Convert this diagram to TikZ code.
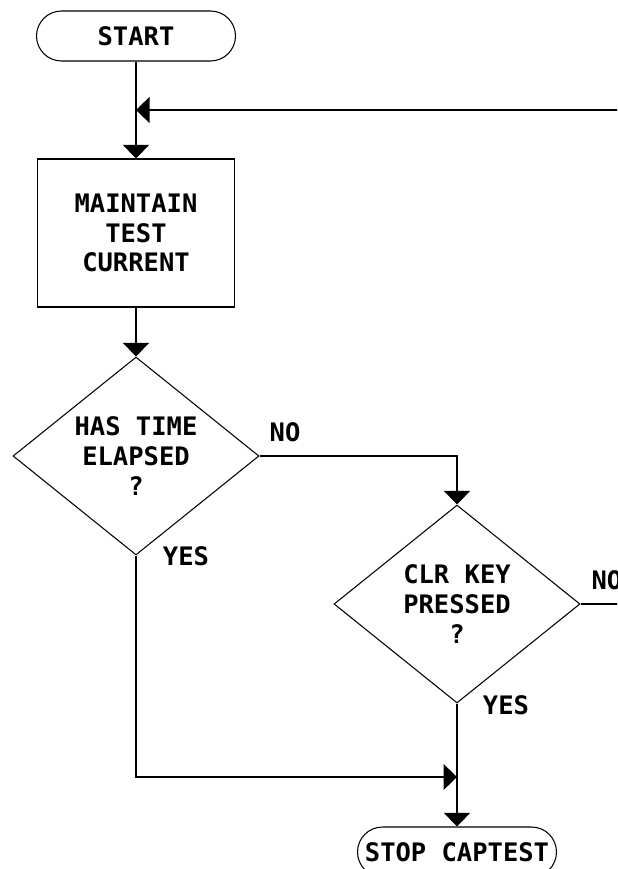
\documentclass[tikz,border=0pt]{standalone}
\usepackage{fontspec}
\newfontfamily\flowfont{DejaVu Sans Mono}
\usetikzlibrary{shapes.geometric,arrows.meta}

\begin{document}
\begin{tikzpicture}[
    every node/.style={font=\flowfont\bfseries\fontsize{14.5pt}{17pt}\selectfont},
    terminal/.style={rectangle, rounded corners=0.5cm, draw, minimum width=3.98cm, minimum height=1cm, inner sep=0pt},
    process/.style={rectangle, draw, minimum width=3.94cm, minimum height=2.96cm, align=center},
    decision/.style={diamond, draw, aspect=1.24, minimum width=4.92cm, minimum height=3.96cm, inner sep=0pt, align=center},
    flow/.style={-{Triangle[length=0.27cm,width=0.52cm]}},
    line width=0.6pt]
        \useasboundingbox (0,0) rectangle (12.34,-17.38);
        \clip (0,0) rectangle (12.34,-17.38);

        \node[terminal] (start) at (2.72,-0.72) {START};
        \node[process] (maintain) at (2.72,-4.66) {MAINTAIN\\TEST\\CURRENT};
        \node[decision] (elapsed) at (2.72,-9.12) {HAS TIME\\ELAPSED\\?};
        \node[decision] (clrkey) at (9.14,-12.08) {CLR KEY\\PRESSED\\?};
        \node[terminal] (stop) at (9.14,-17.04) {STOP CAPTEST};

        \coordinate (merge) at (2.72,-2.2);
        \coordinate (join) at (9.14,-15.54);

        \draw[flow] (start) -- (maintain);
        \draw[flow] (clrkey.east) -- ++(1,0) |- (merge);
        \draw[flow] (maintain) -- (elapsed);
        \draw[flow] (elapsed.east) -| (clrkey.north);
        \draw[flow] (elapsed.south) |- (join);
        \draw[flow] (clrkey) -- (stop);

        \node (no1) at (5.7,-8.64) {NO};
        \node (yes1) at (3.72,-11.12) {YES};
        \node[anchor=west, inner sep=0pt] (no2) at (11.82,-11.6) {NO};
        \node (yes2) at (10.12,-14.1) {YES};

    \end{tikzpicture}
\end{document}
